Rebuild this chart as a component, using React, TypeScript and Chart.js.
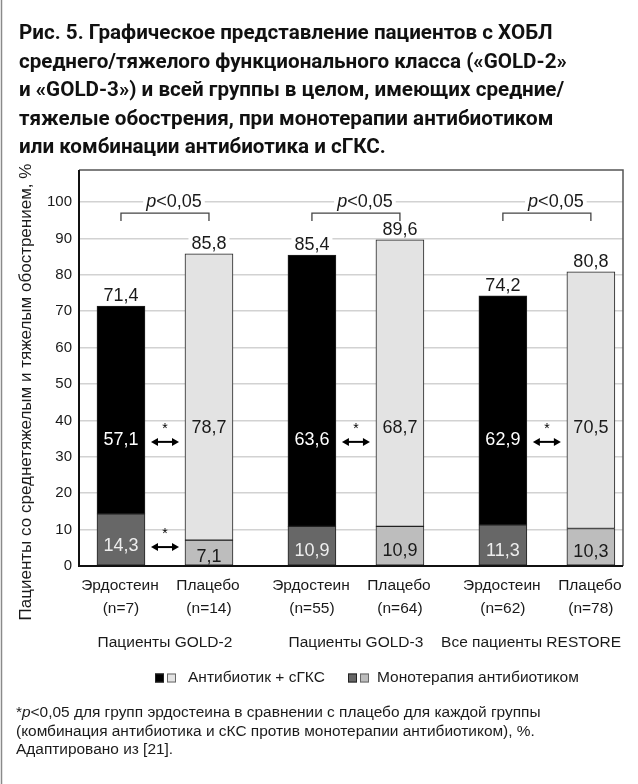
import React, { useEffect, useRef } from "react";
import { Chart, registerables } from "chart.js";

Chart.register(...registerables);

// ---------- data ----------
const titleLines = [
  "Рис. 5. Графическое представление пациентов с ХОБЛ",
  "среднего/тяжелого функционального класса («GOLD-2»",
  "и «GOLD-3») и всей группы в целом, имеющих средние/",
  "тяжелые обострения, при монотерапии антибиотиком",
  "или комбинации антибиотика и сГКС.",
];
const yAxisTitle = "Пациенты со среднетяжелым и тяжелым обострением, %";
const barNames = ["Эрдостеин", "Плацебо", "Эрдостеин", "Плацебо", "Эрдостеин", "Плацебо"];
const barCounts = ["(n=7)", "(n=14)", "(n=55)", "(n=64)", "(n=62)", "(n=78)"];
const groupNames = ["Пациенты GOLD-2", "Пациенты GOLD-3", "Все пациенты RESTORE"];
const totalValues = [71.4, 85.8, 85.4, 89.6, 74.2, 80.8];
const comboValues = [57.1, 78.7, 63.6, 68.7, 62.9, 70.5];
const monoValues = [14.3, 7.1, 10.9, 10.9, 11.3, 10.3];
const comboSignificant = [true, true, true];
const monoSignificant = [true, false, false];
const groupPValue = ["<0,05", "<0,05", "<0,05"];
const yTicks = [0, 10, 20, 30, 40, 50, 60, 70, 80, 90, 100];
const legendLabels = ["Антибиотик + сГКС", "Монотерапия антибиотиком"];
const footnoteLines = [
  " для групп эрдостеина в сравнении с плацебо для каждой группы",
  "(комбинация антибиотика и сКС против монотерапии антибиотиком), %.",
  "Адаптировано из [21].",
];

// ---------- layout / style constants ----------
const W = 638;
const H = 784;
const GROUP_STEP = 2.17;
const PAIR_STEP = 1;
const xPos = (i: number) => Math.floor(i / 2) * GROUP_STEP + (i % 2) * PAIR_STEP;
const SANS = "'Liberation Sans', Arial, sans-serif";
const NARROW = "'Liberation Sans Narrow', 'Liberation Sans', Arial, sans-serif";
const TEXT = "#1a1a1a";
const topColors = ["#000000", "#e3e3e3"];
const bottomColors = ["#676767", "#bdbdbd"];

const fmt = (v: number) => v.toFixed(1).replace(".", ",");

function fitSize(ctx: CanvasRenderingContext2D, text: string, weight: string, family: string, target: number) {
  ctx.font = `${weight} 20px ${family}`;
  const w = ctx.measureText(text).width;
  return (20 * target) / w;
}

function boxText(
  ctx: CanvasRenderingContext2D,
  text: string,
  cx: number,
  cy: number,
  color: string,
  bg: boolean
) {
  ctx.font = `18px ${SANS}`;
  const w = ctx.measureText(text).width;
  if (bg) {
    ctx.fillStyle = "#ffffff";
    ctx.fillRect(cx - w / 2 - 3, cy - 9, w + 6, 18);
  }
  ctx.fillStyle = color;
  ctx.textAlign = "center";
  ctx.textBaseline = "middle";
  ctx.fillText(text, cx, cy + 1);
}

function drawArrow(ctx: CanvasRenderingContext2D, cx: number, cy: number) {
  const half = 14;
  ctx.strokeStyle = "#000";
  ctx.fillStyle = "#000";
  ctx.lineWidth = 2;
  ctx.beginPath();
  ctx.moveTo(cx - half + 5, cy);
  ctx.lineTo(cx + half - 5, cy);
  ctx.stroke();
  ctx.beginPath();
  ctx.moveTo(cx - half, cy);
  ctx.lineTo(cx - half + 7, cy - 4);
  ctx.lineTo(cx - half + 7, cy + 4);
  ctx.closePath();
  ctx.fill();
  ctx.beginPath();
  ctx.moveTo(cx + half, cy);
  ctx.lineTo(cx + half - 7, cy - 4);
  ctx.lineTo(cx + half - 7, cy + 4);
  ctx.closePath();
  ctx.fill();
  ctx.font = `14px ${SANS}`;
  ctx.textAlign = "center";
  ctx.textBaseline = "middle";
  ctx.fillText("*", cx, cy - 13);
}

const decorPlugin = {
  id: "decor",
  beforeDraw(chart: any) {
    const ctx = chart.ctx as CanvasRenderingContext2D;
    ctx.save();
    ctx.fillStyle = "#ffffff";
    ctx.fillRect(0, 0, chart.width, chart.height);
    ctx.restore();
  },
  afterDraw(chart: any) {
    const ctx = chart.ctx as CanvasRenderingContext2D;
    const a = chart.chartArea;
    const x = chart.scales.x;
    const y = chart.scales.y;
    ctx.save();

    // outer left rule
    ctx.strokeStyle = "#8a8a8a";
    ctx.lineWidth = 1.5;
    ctx.beginPath();
    ctx.moveTo(1.5, 0);
    ctx.lineTo(1.5, H);
    ctx.stroke();

    // plot frame
    ctx.strokeStyle = "#555";
    ctx.lineWidth = 1.5;
    ctx.beginPath();
    ctx.moveTo(a.left, a.top);
    ctx.lineTo(a.right, a.top);
    ctx.lineTo(a.right, a.bottom);
    ctx.stroke();
    ctx.strokeStyle = "#111";
    ctx.lineWidth = 2;
    ctx.beginPath();
    ctx.moveTo(a.left, a.top);
    ctx.lineTo(a.left, a.bottom);
    ctx.lineTo(a.right, a.bottom);
    ctx.stroke();

    // bar labels
    totalValues.forEach((t, i) => {
      const cx = x.getPixelForValue(xPos(i));
      const even = i % 2 === 0;
      boxText(ctx, fmt(t), cx, y.getPixelForValue(t) - 11, TEXT, true);
      boxText(ctx, fmt(comboValues[i]), cx, y.getPixelForValue(even ? 35 : 38.2), even ? "#ffffff" : TEXT, false);
      boxText(ctx, fmt(monoValues[i]), cx, y.getPixelForValue(monoValues[i] * 0.4), even ? "#eeeeee" : TEXT, false);
    });

    // group brackets, p-values, arrows
    groupNames.forEach((_, g) => {
      const x1 = x.getPixelForValue(xPos(g * 2));
      const x2 = x.getPixelForValue(xPos(g * 2 + 1));
      const cx = (x1 + x2) / 2;
      const y100 = y.getPixelForValue(100);
      // bracket
      ctx.strokeStyle = "#444";
      ctx.lineWidth = 1.3;
      ctx.beginPath();
      ctx.moveTo(x1, y100 + 19);
      ctx.lineTo(x1, y100 + 11);
      ctx.lineTo(x2, y100 + 11);
      ctx.lineTo(x2, y100 + 19);
      ctx.stroke();
      // p label
      ctx.font = `italic 18px ${SANS}`;
      const wp = ctx.measureText("p").width;
      ctx.font = `18px ${SANS}`;
      const wr = ctx.measureText(groupPValue[g]).width;
      const tw = wp + wr;
      const px = cx + 9 - tw / 2;
      const py = y100 - 1;
      ctx.fillStyle = "#fff";
      ctx.fillRect(px - 3, py - 9, tw + 6, 18);
      ctx.fillStyle = TEXT;
      ctx.textAlign = "left";
      ctx.textBaseline = "middle";
      ctx.font = `italic 18px ${SANS}`;
      ctx.fillText("p", px, py + 1);
      ctx.font = `18px ${SANS}`;
      ctx.fillText(groupPValue[g], px + wp, py + 1);
      // arrows
      if (comboSignificant[g]) drawArrow(ctx, cx, y.getPixelForValue(34.1));
      if (monoSignificant[g]) drawArrow(ctx, cx, y.getPixelForValue(5.2));
    });

    // x labels
    ctx.fillStyle = TEXT;
    ctx.textAlign = "center";
    ctx.textBaseline = "middle";
    ctx.font = `15.5px ${SANS}`;
    barNames.forEach((n, i) => {
      const cx = x.getPixelForValue(xPos(i));
      ctx.fillText(n, cx - 1, a.bottom + 20);
      ctx.fillText(barCounts[i], cx, a.bottom + 43);
    });
    groupNames.forEach((n, g) => {
      const cx = (x.getPixelForValue(xPos(g * 2)) + x.getPixelForValue(xPos(g * 2 + 1))) / 2;
      const w = ctx.measureText(n).width;
      const c = Math.min(cx, a.right - 2 - w / 2);
      ctx.fillText(n, c, a.bottom + 77);
    });

    // y axis title
    ctx.save();
    ctx.translate(26, 392);
    ctx.rotate(-Math.PI / 2);
    ctx.font = `17px ${SANS}`;
    ctx.fillStyle = TEXT;
    ctx.textAlign = "center";
    ctx.textBaseline = "middle";
    ctx.fillText(yAxisTitle, 0, 0);
    ctx.restore();

    // legend
    const legY = 678;
    const legendX = [155, 348];
    legendLabels.forEach((l, k) => {
      const lx = legendX[k];
      const cols = k === 0 ? topColors : bottomColors;
      cols.forEach((c, j) => {
        const sx = lx + j * 12;
        ctx.fillStyle = c;
        ctx.fillRect(sx, legY - 4.5, 9, 9);
        ctx.strokeStyle = j === 0 ? "#222" : "#666";
        ctx.lineWidth = 1;
        ctx.strokeRect(sx + 0.5, legY - 4, 8, 8);
      });
      ctx.fillStyle = TEXT;
      ctx.textAlign = "left";
      ctx.textBaseline = "middle";
      ctx.font = `15.5px ${NARROW}`;
      ctx.fillText(l, lx + (k === 0 ? 33 : 29), legY);
    });

    // footnote
    const fs = fitSize(ctx, "*p<0,05" + footnoteLines[0], "normal", NARROW, 525);
    ctx.fillStyle = TEXT;
    ctx.textAlign = "left";
    ctx.textBaseline = "middle";
    const fy = [713, 731.5, 750];
    ctx.font = `${fs}px ${NARROW}`;
    let fx = 16;
    ctx.fillText("*", fx, fy[0]);
    fx += ctx.measureText("*").width;
    ctx.font = `italic ${fs}px ${NARROW}`;
    ctx.fillText("p", fx, fy[0]);
    fx += ctx.measureText("p").width;
    ctx.font = `${fs}px ${NARROW}`;
    ctx.fillText("<0,05" + footnoteLines[0], fx, fy[0]);
    ctx.fillText(footnoteLines[1], 16, fy[1]);
    ctx.fillText(footnoteLines[2], 16, fy[2]);

    // title
    const ts = fitSize(ctx, titleLines[0], "bold", "Roboto, sans-serif", 534);
    ctx.font = `bold ${ts}px Roboto, sans-serif`;
    ctx.fillStyle = "#111";
    titleLines.forEach((t, i) => {
      ctx.fillText(t, 19, 34 + i * 28.5);
    });

    ctx.restore();
  },
};

export default function App() {
  const ref = useRef<HTMLCanvasElement | null>(null);
  useEffect(() => {
    if (!ref.current) return;
    const chart = new Chart(ref.current, {
      type: "bar",
      data: {
        datasets: [
          {
            label: legendLabels[0],
            data: totalValues.map((t, i) => ({ x: xPos(i), y: [monoValues[i], t] })) as any,
            backgroundColor: totalValues.map((_, i) => topColors[i % 2]),
            borderColor: "#222",
            borderWidth: 1,
            borderSkipped: false,
            barThickness: 48,
            grouped: false,
          },
          {
            label: legendLabels[1],
            data: monoValues.map((m, i) => ({ x: xPos(i), y: [0, m] })) as any,
            backgroundColor: monoValues.map((_, i) => bottomColors[i % 2]),
            borderColor: "#222",
            borderWidth: 1,
            borderSkipped: false,
            barThickness: 48,
            grouped: false,
          },
        ],
      },
      options: {
        responsive: false,
        animation: false,
        devicePixelRatio: 1,
        layout: { padding: { left: 0, top: 170, right: 15, bottom: 0 } },
        plugins: { legend: { display: false }, tooltip: { enabled: false }, title: { display: false } },
        scales: {
          x: {
            type: "linear",
            offset: false,
            min: -0.477,
            max: 5.705,
            ticks: { display: false },
            grid: { display: false, offset: false },
            border: { display: false },
            afterFit: (s: any) => {
              s.height = 218;
            },
          },
          y: {
            min: 0,
            max: 108.8,
            afterBuildTicks: (s: any) => {
              s.ticks = yTicks.map((v) => ({ value: v }));
            },
            ticks: {
              padding: 7,
              color: TEXT,
              font: { family: SANS, size: 15 },
              callback: (v: any) => String(v),
            },
            grid: { color: "#d2d2d2", lineWidth: 1.5, drawTicks: false },
            border: { display: false },
            afterFit: (s: any) => {
              s.width = 79;
            },
          },
        },
      },
      plugins: [decorPlugin],
    });
    return () => chart.destroy();
  }, []);
  return (
    <div style={{ position: "absolute", left: 0, top: 0, width: W, height: H, background: "#fff" }}>
      <canvas ref={ref} width={W} height={H} style={{ display: "block", width: W, height: H }} />
    </div>
  );
}
